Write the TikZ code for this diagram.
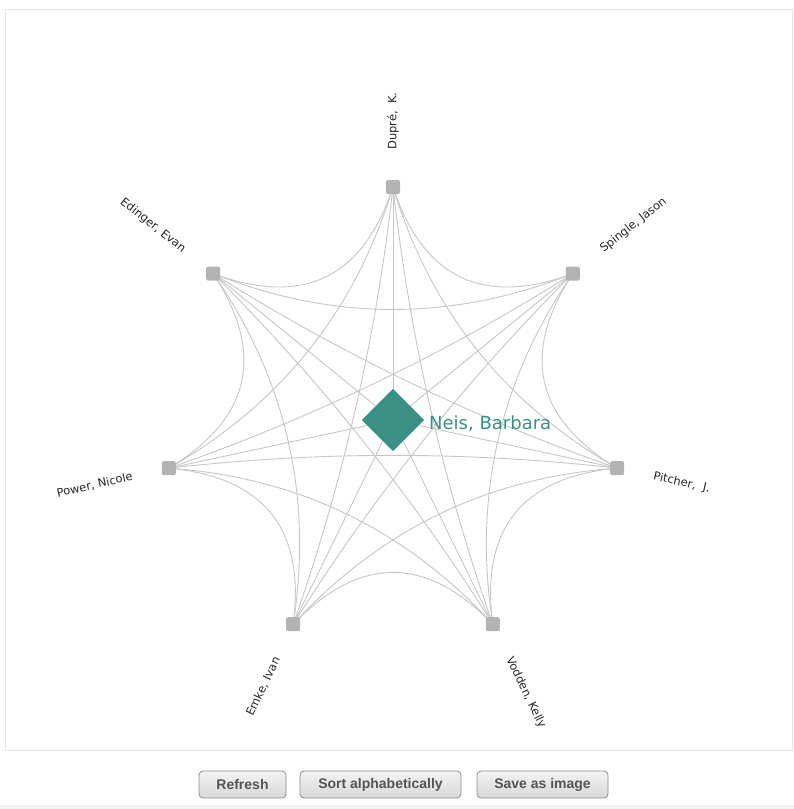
\documentclass[tikz,border=0pt]{standalone}
\usepackage{fontspec}
\setmainfont{DejaVu Sans}
\newfontfamily\btnfont{Liberation Sans}
\usetikzlibrary{shapes.geometric,calc}
\definecolor{edgegray}{HTML}{C6C6C6}
\definecolor{nodegray}{HTML}{B3B3B3}
\definecolor{neisteal}{HTML}{3B9084}
\definecolor{framegray}{HTML}{E4E4E4}
\definecolor{btntext}{HTML}{555555}
\definecolor{btnborder}{HTML}{8C8C8C}
\tikzset{
  edgeline/.style={draw=edgegray, line width=0.9pt},
  personbox/.style={rectangle, rounded corners=2pt, fill=nodegray, minimum size=14pt, inner sep=0pt},
  personlabel/.style={font=\fontsize{11.5}{13}\selectfont, text=black!85, inner sep=0pt},
  focusnode/.style={diamond, fill=neisteal, minimum width=62pt, minimum height=62pt, inner sep=0pt},
  focuslabel/.style={font=\fontsize{18}{20}\selectfont, text=neisteal, inner sep=0pt, anchor=west},
  btnbox/.style={rectangle, rounded corners=4pt, draw=btnborder, line width=0.8pt,
    top color=white!95!black, bottom color=white!85!black,
    minimum height=27pt, inner sep=0pt, font=\btnfont\bfseries\fontsize{14}{16}\selectfont, text=btntext}
}
\begin{document}
\begin{tikzpicture}[x=1pt,y=-1pt]
\useasboundingbox (0,0) rectangle (794,809);
% panel frame
\draw[framegray, line width=1pt] (5,9.5) rectangle (792,750);
\fill[white!95!black] (0,805) rectangle (794,809);
% node coordinates on the circle
\coordinate (ctr) at (393,417);
\foreach \i in {0,...,6}{
  \pgfmathsetmacro\ang{90-\i*360/7}
  \coordinate (p\i) at ({393+230*cos(\ang)},{417-230*sin(\ang)});
}
% centre node (placed first so edges can refer to it)
\node[focusnode] (neis) at (393,420) {};
% connectors between every pair of people
\foreach \i in {0,...,5}{
  \pgfmathtruncatemacro\s{\i+1}
  \foreach \j in {\s,...,6}{
    \coordinate (q) at ($0.5*(ctr)+0.25*(p\i)+0.25*(p\j)$);
    \draw[edgeline] (p\i) .. controls ($(p\i)!0.6667!(q)$) and ($(p\j)!0.6667!(q)$) .. (p\j);
  }
}
% radial connectors to the centre person
\foreach \i in {0,...,6}{
  \draw[edgeline] (neis.center) -- (p\i);
}
% redraw centre node on top
\node[focusnode] (neistop) at (393,420) {};
\node[focuslabel] (neislabel) at (429,424) {Neis, Barbara};
% people nodes
\foreach \i in {0,...,6}{
  \node[personbox] (n\i) at (p\i) {};
}
% labels
\foreach \i/\txt in {0/{Dupré,\ \ K.},1/{Spingle, Jason},2/{Pitcher,\ \ J.},3/{Vodden, Kelly}}{
  \pgfmathsetmacro\ang{90-\i*360/7}
  \node[personlabel, anchor=west, rotate=\ang] (l\i) at ({393+267*cos(\ang)},{417-267*sin(\ang)}) {\txt};
}
\foreach \i/\txt in {4/{Emke, Ivan},5/{Power, Nicole},6/{Edinger, Evan}}{
  \pgfmathsetmacro\ang{90-\i*360/7}
  \pgfmathsetmacro\rot{\ang+180}
  \node[personlabel, anchor=east, rotate=\rot] (l\i) at ({393+267*cos(\ang)},{417-267*sin(\ang)}) {\txt};
}
% buttons
\node[btnbox, minimum width=87pt] (refresh) at (242.5,784.5) {Refresh};
\node[btnbox, minimum width=161pt] (sortbtn) at (380.5,784.5) {Sort alphabetically};
\node[btnbox, minimum width=131pt] (savebtn) at (542.5,784.5) {Save as image};
\end{tikzpicture}
\end{document}
